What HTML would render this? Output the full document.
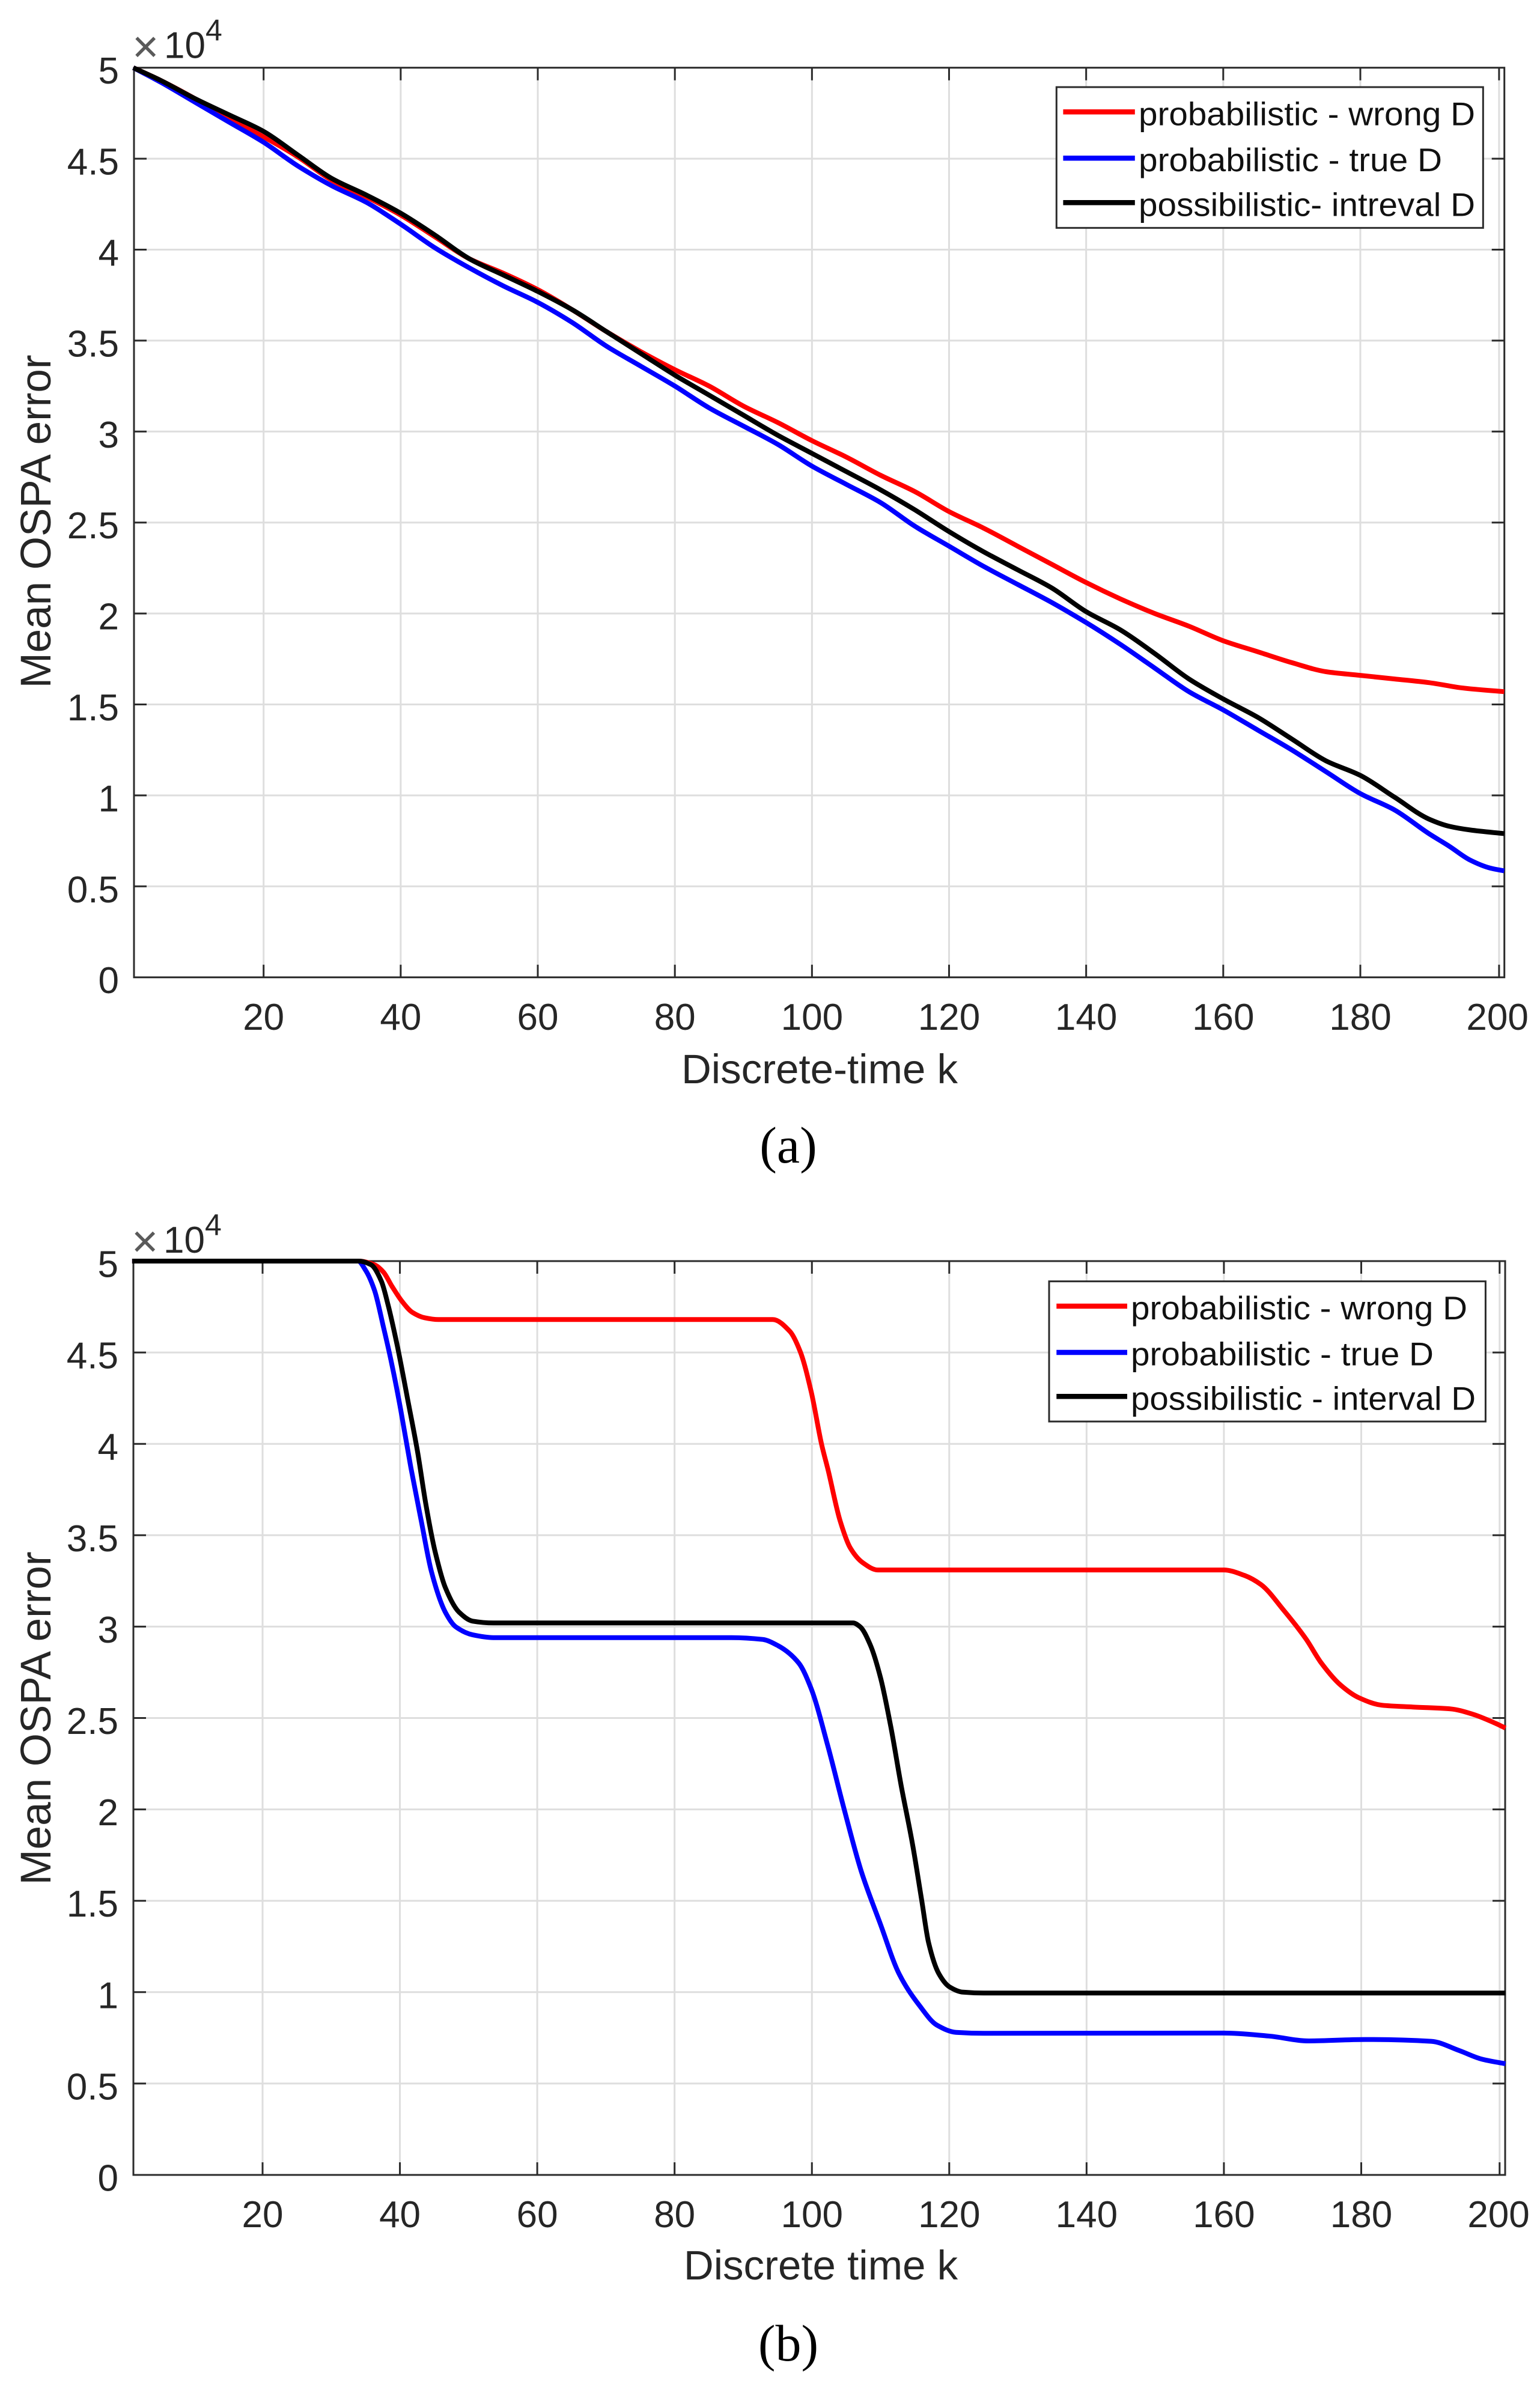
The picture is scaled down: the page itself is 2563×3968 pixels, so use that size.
<!DOCTYPE html>
<html lang="en">
<head>
<meta charset="utf-8">
<title>Mean OSPA error charts</title>
<style>
html,body{margin:0;padding:0;background:#fff;}
svg{display:block;}
text{font-family:"Liberation Sans",sans-serif;fill:#262626;}
.cap{font-family:"Liberation Serif",serif;fill:#000;}
</style>
</head>
<body>
<svg id="figure" xmlns="http://www.w3.org/2000/svg" width="2563" height="3968" viewBox="0 0 2563 3968"></svg>
<script>
// shared axis labels
const yTickValues = [0, 0.5, 1, 1.5, 2, 2.5, 3, 3.5, 4, 4.5, 5];
const yTickLabels = ['0', '0.5', '1', '1.5', '2', '2.5', '3', '3.5', '4', '4.5', '5'];
const xTickValues = [20, 40, 60, 80, 100, 120, 140, 160, 180, 200];
const xTickLabels = ['20', '40', '60', '80', '100', '120', '140', '160', '180', '200'];

// chart (a) series, values in units of 10^4
const aK = [1, 5, 10, 15, 20, 25, 30, 35, 40, 45, 50, 55, 60, 65, 70, 75, 80, 85, 90, 95, 100, 105, 110, 115, 120, 125, 130, 135, 140, 145, 150, 155, 160, 165, 170, 175, 180, 185, 190, 195, 201];
const aRed = [5, 4.93, 4.83, 4.72, 4.62, 4.51, 4.38, 4.29, 4.19, 4.07, 3.95, 3.87, 3.78, 3.67, 3.55, 3.44, 3.34, 3.25, 3.14, 3.05, 2.95, 2.86, 2.76, 2.67, 2.56, 2.47, 2.37, 2.27, 2.17, 2.08, 2.00, 1.93, 1.85, 1.79, 1.73, 1.68, 1.66, 1.64, 1.62, 1.59, 1.57];
const aBlueK = [1, 5, 10, 15, 20, 25, 30, 35, 40, 45, 50, 55, 60, 65, 70, 75, 80, 85, 90, 95, 100, 105, 110, 115, 120, 125, 130, 135, 140, 145, 150, 155, 160, 165, 170, 175, 180, 185, 190, 193, 196, 199, 201];
const aBlue = [5, 4.92, 4.81, 4.70, 4.59, 4.46, 4.35, 4.26, 4.14, 4.01, 3.90, 3.80, 3.71, 3.60, 3.47, 3.36, 3.25, 3.13, 3.03, 2.93, 2.81, 2.71, 2.61, 2.48, 2.37, 2.26, 2.16, 2.06, 1.95, 1.83, 1.70, 1.57, 1.47, 1.36, 1.25, 1.13, 1.01, 0.92, 0.79, 0.72, 0.645, 0.60, 0.585];
const aBlackK = [1, 5, 10, 15, 20, 25, 30, 35, 40, 45, 50, 55, 60, 65, 70, 75, 80, 85, 90, 95, 100, 105, 110, 115, 120, 125, 130, 135, 140, 145, 150, 155, 160, 165, 170, 175, 180, 185, 190, 193, 196, 201];
const aBlack = [5, 4.93, 4.83, 4.74, 4.65, 4.52, 4.39, 4.30, 4.20, 4.08, 3.95, 3.86, 3.77, 3.67, 3.55, 3.43, 3.31, 3.20, 3.09, 2.98, 2.88, 2.78, 2.68, 2.57, 2.45, 2.34, 2.24, 2.14, 2.01, 1.91, 1.78, 1.64, 1.53, 1.43, 1.31, 1.19, 1.11, 0.99, 0.87, 0.83, 0.81, 0.79];
const aLegend = ['probabilistic - wrong D', 'probabilistic - true D', 'possibilistic- intreval D'];

// chart (b) series, values in units of 10^4
const bRedK = [1, 34, 36.3, 37.6, 38.8, 40.3, 41.8, 43.6, 45.6, 60, 80, 94.3, 96.8, 98.3, 99.9, 101.4, 102.4, 104.1, 105.6, 107.4, 109.6, 130, 160, 163, 165.4, 168.7, 172, 174.2, 177, 179.7, 183, 187.5, 193, 196.3, 199.6, 201];
const bRed = [5, 5, 4.98, 4.94, 4.865, 4.78, 4.72, 4.69, 4.68, 4.68, 4.68, 4.68, 4.615, 4.505, 4.285, 4.0, 3.85, 3.58, 3.43, 3.35, 3.31, 3.31, 3.31, 3.28, 3.23, 3.09, 2.93, 2.80, 2.68, 2.61, 2.57, 2.56, 2.55, 2.52, 2.47, 2.445];
const bBlueK = [1, 33.9, 35, 36.3, 37.6, 38.8, 40.1, 41.6, 43.1, 44.6, 46.6, 48.1, 50.6, 53.6, 70, 88.3, 92.8, 95.1, 98.1, 99.9, 102.3, 104.7, 107.2, 110, 112.7, 115.6, 118.2, 121, 125, 160, 166.5, 172.4, 180.5, 190.2, 194.3, 197.5, 201];
const bBlue = [5, 5, 4.95, 4.84, 4.64, 4.44, 4.19, 3.87, 3.58, 3.30, 3.08, 3.0, 2.955, 2.94, 2.94, 2.94, 2.93, 2.895, 2.80, 2.66, 2.35, 2.0, 1.66, 1.37, 1.10, 0.93, 0.82, 0.78, 0.775, 0.776, 0.76, 0.733, 0.741, 0.731, 0.68, 0.634, 0.608];
const bBlackK = [1, 34, 35.8, 37.3, 38.3, 39.6, 41.1, 42.6, 43.8, 45.1, 46.6, 48.6, 50.6, 53.6, 80, 106, 107, 108.5, 110, 111.5, 113, 114.7, 116, 117, 118.5, 120, 122, 125, 201];
const bBlack = [5, 5, 4.98, 4.89, 4.757, 4.54, 4.25, 3.95, 3.665, 3.415, 3.215, 3.08, 3.03, 3.02, 3.02, 3.02, 3.0, 2.9, 2.72, 2.45, 2.13, 1.8, 1.5, 1.27, 1.1, 1.03, 1.0, 0.995, 0.995];
const bLegend = ['probabilistic - wrong D', 'probabilistic - true D', 'possibilistic - interval D'];

const NS = 'http://www.w3.org/2000/svg';
const root = document.getElementById('figure');

function make(tag, parent, attrs, txt) {
  const el = document.createElementNS(NS, tag);
  for (const k in attrs) el.setAttribute(k, attrs[k]);
  if (txt !== undefined) el.textContent = txt;
  parent.appendChild(el);
  return el;
}

// monotone cubic path through the data points
function monotonePath(xs, ys) {
  const n = xs.length;
  const d = [];
  for (let i = 0; i < n - 1; i++) d.push((ys[i + 1] - ys[i]) / (xs[i + 1] - xs[i]));
  const t = [d[0]];
  for (let i = 1; i < n - 1; i++) {
    if (d[i - 1] * d[i] <= 0) {
      t.push(0);
    } else {
      const h0 = xs[i] - xs[i - 1];
      const h1 = xs[i + 1] - xs[i];
      const w1 = 2 * h1 + h0;
      const w2 = h1 + 2 * h0;
      t.push((w1 + w2) / (w1 / d[i - 1] + w2 / d[i]));
    }
  }
  t.push(d[n - 2]);
  let out = 'M' + xs[0].toFixed(1) + ' ' + ys[0].toFixed(1);
  for (let i = 0; i < n - 1; i++) {
    const h = (xs[i + 1] - xs[i]) / 3;
    out += 'C' + (xs[i] + h).toFixed(1) + ' ' + (ys[i] + t[i] * h).toFixed(1) + ' ' +
      (xs[i + 1] - h).toFixed(1) + ' ' + (ys[i + 1] - t[i + 1] * h).toFixed(1) + ' ' +
      xs[i + 1].toFixed(1) + ' ' + ys[i + 1].toFixed(1);
  }
  return out;
}

function drawChart(c) {
  const x = k => c.x20 + (k - 20) * c.xPerK;
  const y = v => c.yBottom - v * (c.yBottom - c.yTop) / 5;
  const axisColor = '#2b2b2b';

  const g = make('g', root, {});
  
  

  // gridlines
  const grid = make('g', g, { stroke: '#dedede', 'stroke-width': 3 });
  
  
  xTickValues.forEach((v, i) => {
    const px = x(i === xTickValues.length - 1 ? v + c.lastTickShift : v);
    const ln = make('line', grid, { x1: px, x2: px, y1: c.yTop, y2: c.yBottom });
    
    
  });
  yTickValues.slice(1, -1).forEach(v => {
    const ln = make('line', grid, { x1: c.left, x2: c.right, y1: y(v), y2: y(v) });
    
    
  });

  // ticks
  const ticks = make('g', g, { stroke: axisColor, 'stroke-width': 3 });
  
  
  xTickValues.forEach((v, i) => {
    const px = x(i === xTickValues.length - 1 ? v + c.lastTickShift : v);
    make('line', ticks, { x1: px, x2: px, y1: c.yBottom, y2: c.yBottom - 21 });
    make('line', ticks, { x1: px, x2: px, y1: c.yTop, y2: c.yTop + 21 });
  });
  yTickValues.slice(1, -1).forEach(v => {
    make('line', ticks, { x1: c.left, x2: c.left + 21, y1: y(v), y2: y(v) });
    make('line', ticks, { x1: c.right, x2: c.right - 21, y1: y(v), y2: y(v) });
  });

  // axes box
  const box = make('rect', g, { x: c.left, y: c.yTop, width: c.right - c.left, height: c.yBottom - c.yTop, fill: 'none', stroke: axisColor, 'stroke-width': 3 });
  
  

  // tick labels
  yTickLabels.forEach((t, i) => {
    const lab = make('text', g, { x: c.left - 25, y: y(yTickValues[i]) + 26.5, 'text-anchor': 'end', 'font-size': 62 }, t);
    
    
  });
  xTickLabels.forEach((t, i) => {
    const lab = make('text', g, { x: x(xTickValues[i]), y: c.xLabelBase, 'text-anchor': 'middle', 'font-size': 62 }, t);
    
    
  });

  // exponent
  const ex = make('g', g, {});
  
  
  make('text', ex, { x: c.left - 3, y: c.expBase + 7, 'font-size': 76, style: 'fill:#5a5a5a' }, '\u00D7');
  make('text', ex, { x: c.left + 50, y: c.expBase, 'font-size': 62 }, '10');
  make('text', ex, { x: c.left + 119, y: c.expBase - 29, 'font-size': 50 }, '4');

  // axis titles
  const yt = make('text', g, { transform: 'translate(' + c.yTitleX + ',' + c.yTitleCenter + ') rotate(-90)', 'text-anchor': 'middle', 'font-size': 71 }, 'Mean OSPA error');
  
  
  const xt = make('text', g, { x: c.xTitleCenter, y: c.xTitleBase, 'text-anchor': 'middle', 'font-size': 69 }, c.xTitle);
  
  

  // series
  c.series.forEach(s => {
    const line = make('path', g, { d: monotonePath(s.k.map(x), s.v.map(y)), fill: 'none', stroke: s.color, 'stroke-width': 8, 'stroke-linejoin': 'round' });
    
    
  });

  // legend
  const L = c.legend;
  const lg = make('g', g, {});
  
  
  make('rect', lg, { x: L.left, y: L.top, width: L.right - L.left, height: L.bottom - L.top, fill: '#fff', stroke: axisColor, 'stroke-width': 3 });
  c.series.forEach((s, i) => {
    const row = make('g', lg, {});
    
    
    make('line', row, { x1: L.lineX1, x2: L.lineX2, y1: L.rows[i], y2: L.rows[i], stroke: s.color, 'stroke-width': 8.5 });
    make('text', row, { x: L.textX, y: L.bases[i], 'font-size': 55, textLength: L.lens[i], lengthAdjust: 'spacingAndGlyphs', style: 'fill:#111' }, c.legendLabels[i]);
  });
}

drawChart({
  id: 'chart-a', left: 223, right: 2503.7, yTop: 112.7, yBottom: 1626.7,
  x20: 438.7, xPerK: 11.408, lastTickShift: 0.24, xLabelBase: 1714, expBase: 96.7,
  yTitleX: 84, yTitleCenter: 868, xTitle: 'Discrete-time k', xTitleCenter: 1364, xTitleBase: 1803,
  series: [
    { name: 'wrong-d', color: '#ff0000', k: aK, v: aRed },
    { name: 'true-d', color: '#0000ff', k: aBlueK, v: aBlue },
    { name: 'interval-d', color: '#000000', k: aBlackK, v: aBlack }
  ],
  legendLabels: aLegend,
  legend: { left: 1758.3, right: 2468.3, top: 145, bottom: 379.3, lineX1: 1769.4, lineX2: 1888.8, textX: 1895, rows: [186.3, 263.3, 337.3], bases: [208.3, 285, 359.3], lens: [560, 505, 560] }
});

drawChart({
  id: 'chart-b', left: 222, right: 2505, yTop: 2099, yBottom: 3620,
  x20: 437, xPerK: 11.428, lastTickShift: 0.15, xLabelBase: 3707, expBase: 2085,
  yTitleX: 84, yTitleCenter: 2860, xTitle: 'Discrete time k', xTitleCenter: 1366, xTitleBase: 3794,
  series: [
    { name: 'wrong-d', color: '#ff0000', k: bRedK, v: bRed },
    { name: 'true-d', color: '#0000ff', k: bBlueK, v: bBlue },
    { name: 'interval-d', color: '#000000', k: bBlackK, v: bBlack }
  ],
  legendLabels: bLegend,
  legend: { left: 1746, right: 2472.4, top: 2132.7, bottom: 2366, lineX1: 1758.3, lineX2: 1876, textX: 1882, rows: [2174, 2251, 2324.3], bases: [2196, 2272.7, 2346.7], lens: [560, 504, 574] }
});

const capA = make('text', root, { class: 'cap', x: 1312, y: 1935, 'text-anchor': 'middle', 'font-size': 86 }, '(a)');


const capB = make('text', root, { class: 'cap', x: 1312, y: 3929, 'text-anchor': 'middle', 'font-size': 86 }, '(b)');


</script>
</body>
</html>
